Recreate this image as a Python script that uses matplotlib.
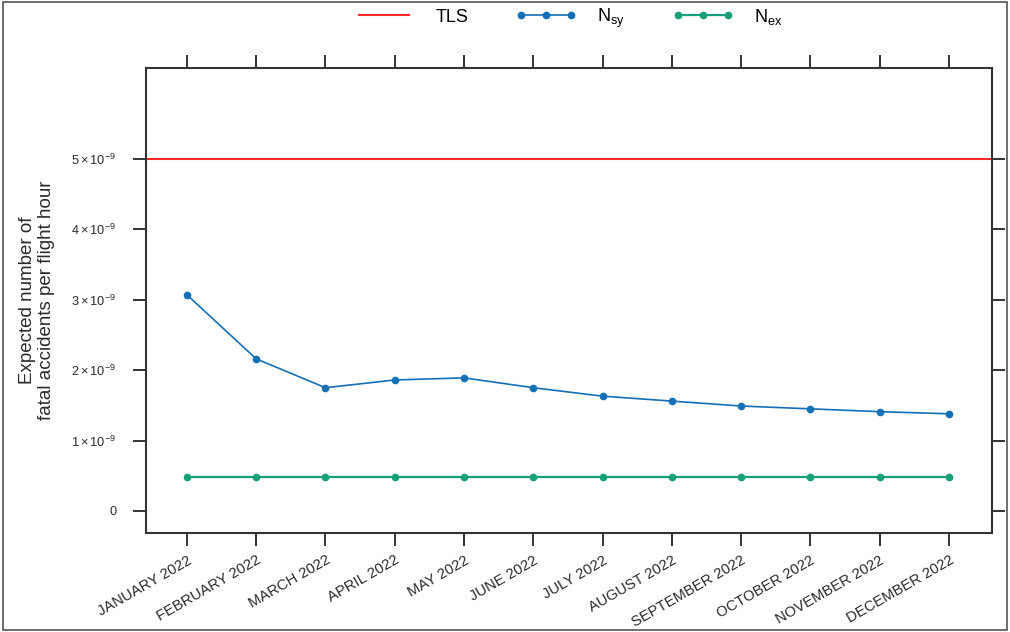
import matplotlib
matplotlib.use("Agg")
import matplotlib.pyplot as plt
from matplotlib.patches import Rectangle
import numpy as np

months = ["JANUARY 2022", "FEBRUARY 2022", "MARCH 2022", "APRIL 2022", "MAY 2022",
          "JUNE 2022", "JULY 2022", "AUGUST 2022", "SEPTEMBER 2022", "OCTOBER 2022",
          "NOVEMBER 2022", "DECEMBER 2022"]
n_sy = [3.07e-9, 2.16e-9, 1.75e-9, 1.86e-9, 1.89e-9, 1.75e-9,
        1.63e-9, 1.56e-9, 1.49e-9, 1.45e-9, 1.41e-9, 1.38e-9]
n_ex = [0.48e-9] * 12
tls = 5e-9
ytick_vals = [0, 1e-9, 2e-9, 3e-9, 4e-9, 5e-9]
ytick_labels = ["0", r"$1\times10^{-9}$", r"$2\times10^{-9}$", r"$3\times10^{-9}$",
                r"$4\times10^{-9}$", r"$5\times10^{-9}$"]

plt.rcParams['font.family'] = ['Liberation Sans', 'DejaVu Sans']
plt.rcParams['mathtext.fontset'] = 'custom'
plt.rcParams['mathtext.rm'] = 'Liberation Sans'
plt.rcParams['mathtext.it'] = 'Liberation Sans'
plt.rcParams['mathtext.default'] = 'regular'

c_red = '#ff2a2a'
c_blue = '#1470b6'
c_green = '#13a07a'
c_axis = '#333333'
c_text = '#2a2a2a'

fig = plt.figure(figsize=(10.1, 6.32), dpi=100)
ax = fig.add_axes([146/1010, 1-533/632, (992-146)/1010, (533-68)/632])

x = np.arange(len(months))
ax.axhline(tls, color=c_red, lw=1.5, label='TLS', zorder=2)
ax.plot(x, n_sy, color=c_blue, lw=1.2, marker='o', ms=4.5, label=r'N$_{sy}$', zorder=3)
ax.plot(x, n_ex, color=c_green, lw=1.6, marker='o', ms=4.5, label=r'N$_{ex}$', zorder=3)

ax.set_xlim(-0.59, 11.62)
ax.set_ylim(-0.313e-9, 6.29e-9)
ax.set_xticks(x)
ax.set_xticklabels(months, rotation=30, ha='right', rotation_mode='anchor', fontsize=10.6, color=c_text)
ax.set_yticks(ytick_vals)
ax.set_yticklabels(ytick_labels, fontsize=9.2, color=c_text)
ax.tick_params(axis='both', direction='out', length=9.5, width=1.4, color=c_axis,
               top=True, right=True, labeltop=False, labelright=False)
ax.tick_params(axis='y', pad=12)
ax.tick_params(axis='x', pad=5)
for s in ax.spines.values():
    s.set_linewidth(1.5)
    s.set_color(c_axis)

ax.set_ylabel("Expected number of\nfatal accidents per flight hour", fontsize=13.5,
              color=c_text, labelpad=12, linespacing=1.15)

leg = fig.legend(loc='center', bbox_to_anchor=(568/1010, 1-18/632), ncol=3, frameon=False,
                 fontsize=13, handlelength=3.4, numpoints=3, columnspacing=2.6, handletextpad=1.15)

fig.patches.append(Rectangle((3/1010, 2/632), 1004/1010, 628/632, transform=fig.transFigure,
                             fill=False, edgecolor='#555555', lw=1.2))

fig.savefig('out.png', dpi=100)
